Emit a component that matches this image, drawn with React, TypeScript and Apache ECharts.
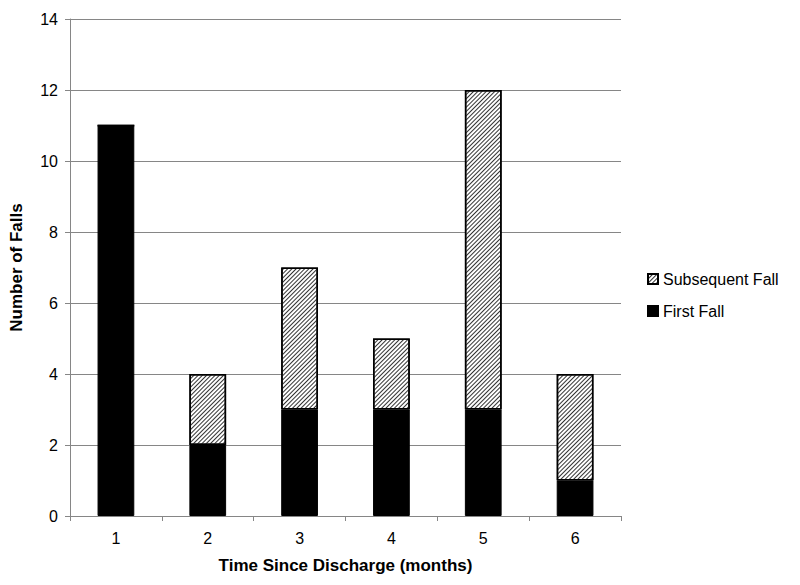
import React, { useEffect, useRef } from "react";
import * as echarts from "echarts";

const categories = ["1", "2", "3", "4", "5", "6"];
const firstFall = [11, 2, 3, 3, 3, 1];
const subsequentFall = [0, 2, 4, 2, 9, 3];

export default function App() {
  const ref = useRef<HTMLDivElement>(null);
  useEffect(() => {
    if (!ref.current) return;
    const chart = echarts.init(ref.current, null, { renderer: "svg" });
    const font = "'Liberation Sans', Arial, sans-serif";
    chart.setOption({
      animation: false,
      backgroundColor: "#fff",
      textStyle: { fontFamily: font },
      grid: { left: 69, right: 179, top: 19, bottom: 69, containLabel: false },
      legend: {
        orient: "vertical",
        left: 647,
        top: 271,
        padding: 0,
        itemWidth: 10,
        itemHeight: 10,
        itemGap: 16,
        icon: "rect",
        textStyle: { fontSize: 16, color: "#000", fontFamily: font },
        data: ["Subsequent Fall", "First Fall"],
      },
      xAxis: {
        type: "category",
        data: categories,
        name: "Time Since Discharge (months)",
        nameLocation: "middle",
        nameGap: 41,
        nameTextStyle: { fontSize: 17, fontWeight: "bold", color: "#000", fontFamily: font },
        axisLine: { lineStyle: { color: "#868686", width: 1 } },
        axisTick: { show: true, alignWithLabel: false, length: 5, lineStyle: { color: "#868686" } },
        axisLabel: { fontSize: 16, color: "#000", margin: 14, fontFamily: font },
      },
      yAxis: {
        type: "value",
        min: 0,
        max: 14,
        interval: 2,
        name: "Number of Falls",
        nameLocation: "middle",
        nameGap: 45,
        nameTextStyle: { fontSize: 17, fontWeight: "bold", color: "#000", fontFamily: font },
        axisLine: { show: true, lineStyle: { color: "#868686", width: 1 } },
        axisTick: { show: true, length: 5, lineStyle: { color: "#868686" } },
        axisLabel: { fontSize: 16, color: "#000", margin: 12, fontFamily: font },
        splitLine: { show: true, lineStyle: { color: "#868686", width: 1 } },
      },
      series: [
        {
          name: "First Fall",
          type: "bar",
          stack: "falls",
          data: firstFall,
          barWidth: "40%",
          itemStyle: { color: "#000", borderColor: "#000", borderWidth: 1 },
        },
        {
          name: "Subsequent Fall",
          type: "bar",
          stack: "falls",
          data: subsequentFall,
          barWidth: "40%",
          itemStyle: {
            color: "#fff",
            borderColor: "#000",
            borderWidth: 1.5,
            decal: {
              symbol: "rect",
              color: "#333",
              backgroundColor: "#fff",
              dashArrayX: [1, 0],
              dashArrayY: [1, 2],
              rotation: -Math.PI / 4,
            },
          },
        },
      ],
    });
    return () => chart.dispose();
  }, []);
  return <div ref={ref} style={{ width: 800, height: 585, position: "absolute", left: 0, top: 0 }} />;
}
